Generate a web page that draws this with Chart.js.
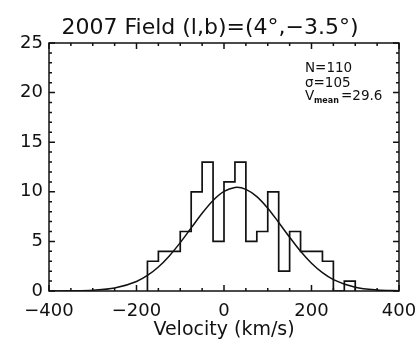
<!DOCTYPE html>
<html>
<head>
<meta charset="utf-8">
<script src="https://cdn.jsdelivr.net/npm/chart.js@4"></script>
<style>
  html, body { margin: 0; padding: 0; background: #fff; }
</style>
</head>
<body>
<canvas id="velHist" width="418" height="345"></canvas>
<script>
// velocity histogram, 2007 field, bins of 25 km/s
const binLeft = [-175, -150, -125, -100, -75, -50, -25, 0, 25, 50, 75, 100, 125, 150, 175, 200, 225, 250, 275];
const counts  = [3, 4, 4, 6, 10, 13, 5, 11, 13, 5, 6, 10, 2, 6, 4, 4, 3, 0, 1];
const binWidth = 25;

// gaussian fit
const fitV = [-400, -350, -300, -250, -200, -175, -150, -125, -100, -75, -50, -25, 0, 25, 29.6, 50, 75, 100, 125, 150, 175, 200, 225, 250, 300, 350, 400];
const fitN = [0.0, 0.02, 0.08, 0.3, 0.96, 1.57, 2.42, 3.54, 4.88, 6.36, 7.84, 9.13, 10.04, 10.44, 10.45, 10.25, 9.52, 8.35, 6.91, 5.42, 4.0, 2.8, 1.85, 1.15, 0.38, 0.1, 0.02];

const xTicks = [-400, -200, 0, 200, 400];
const yTicks = [0, 5, 10, 15, 20, 25];

const titleText = '2007 Field (l,b)=(4\u00b0,\u22123.5\u00b0)';
const stats = { n: '110', sigma: '105', vmean: '29.6' };

const ink = '#111';

const histPts = [{ x: binLeft[0], y: 0 }];
binLeft.forEach((v, i) => histPts.push({ x: v, y: counts[i] }));
histPts.push({ x: binLeft[binLeft.length - 1] + binWidth, y: 0 });

const fitPts = fitV.map((v, i) => ({ x: v, y: fitN[i] }));

const minus = v => String(v).replace('-', '\u2212');

// IDL style frame: box + inward ticks on all four sides, title and the stats box
const frame = {
  id: 'frame',
  afterDatasetsDraw(chart) {
    const { ctx, chartArea: a, scales: { x, y } } = chart;
    ctx.save();
    ctx.strokeStyle = ink;
    ctx.lineWidth = 1.5;
    ctx.strokeRect(a.left, a.top, a.right - a.left, a.bottom - a.top);
    ctx.beginPath();
    for (let v = x.min; v <= x.max; v += 50) {
      const px = x.getPixelForValue(v);
      const len = v % 200 === 0 ? 6 : 3;
      ctx.moveTo(px, a.bottom); ctx.lineTo(px, a.bottom - len);
      ctx.moveTo(px, a.top); ctx.lineTo(px, a.top + len);
    }
    for (let v = y.min; v <= y.max; v += 1) {
      const py = y.getPixelForValue(v);
      const len = v % 5 === 0 ? 6 : 3;
      ctx.moveTo(a.left, py); ctx.lineTo(a.left + len, py);
      ctx.moveTo(a.right, py); ctx.lineTo(a.right - len, py);
    }
    ctx.stroke();

    ctx.fillStyle = ink;
    ctx.textBaseline = 'alphabetic';
    ctx.textAlign = 'center';
    ctx.font = '22px "DejaVu Sans"';
    ctx.fillText(titleText, 210, a.top - 9);

    ctx.textAlign = 'left';
    const tx = a.right - 94;
    ctx.font = '13.5px "DejaVu Sans"';
    ctx.fillText('N=' + stats.n, tx, a.top + 29);
    ctx.fillText('\u03c3=' + stats.sigma, tx, a.top + 44);
    ctx.fillText('V', tx, a.top + 57);
    ctx.fillText('=' + stats.vmean, tx + 36, a.top + 57);
    ctx.font = 'bold 8px "DejaVu Sans"';
    ctx.fillText('mean', tx + 9, a.top + 60);
    ctx.restore();
  }
};

new Chart(document.getElementById('velHist').getContext('2d'), {
  type: 'scatter',
  data: {
    datasets: [
      {
        data: histPts,
        showLine: true,
        stepped: 'before',
        borderColor: ink,
        borderWidth: 1.7,
        pointRadius: 0
      },
      {
        data: fitPts,
        showLine: true,
        cubicInterpolationMode: 'monotone',
        borderColor: ink,
        borderWidth: 1.5,
        pointRadius: 0
      }
    ]
  },
  options: {
    responsive: false,
    animation: false,
    devicePixelRatio: 1,
    layout: { padding: { left: 0, right: 19, top: 43, bottom: 0 } },
    plugins: {
      legend: { display: false },
      tooltip: { enabled: false },
      title: { display: false }
    },
    scales: {
      x: {
        type: 'linear',
        min: -400, max: 400,
        afterBuildTicks: s => { s.ticks = xTicks.map(v => ({ value: v })); },
        afterFit: s => { s.height = 54; s.paddingLeft = 0; s.paddingRight = 0; },
        grid: { display: false, drawTicks: false },
        border: { display: false },
        ticks: {
          color: ink,
          padding: 10,
          maxRotation: 0,
          font: { family: '"DejaVu Sans"', size: 18 },
          callback: v => minus(v)
        },
        title: {
          display: true,
          text: 'Velocity (km/s)',
          color: ink,
          font: { family: '"DejaVu Sans"', size: 19 },
          padding: { top: 0, bottom: 4 }
        }
      },
      y: {
        min: 0, max: 25,
        afterBuildTicks: s => { s.ticks = yTicks.map(v => ({ value: v })); },
        afterFit: s => { s.width = 49; s.paddingTop = 0; s.paddingBottom = 0; },
        grid: { display: false, drawTicks: false },
        border: { display: false },
        ticks: {
          color: ink,
          padding: 6,
          font: { family: '"DejaVu Sans"', size: 18 }
        }
      }
    }
  },
  plugins: [frame]
});
</script>
</body>
</html>
